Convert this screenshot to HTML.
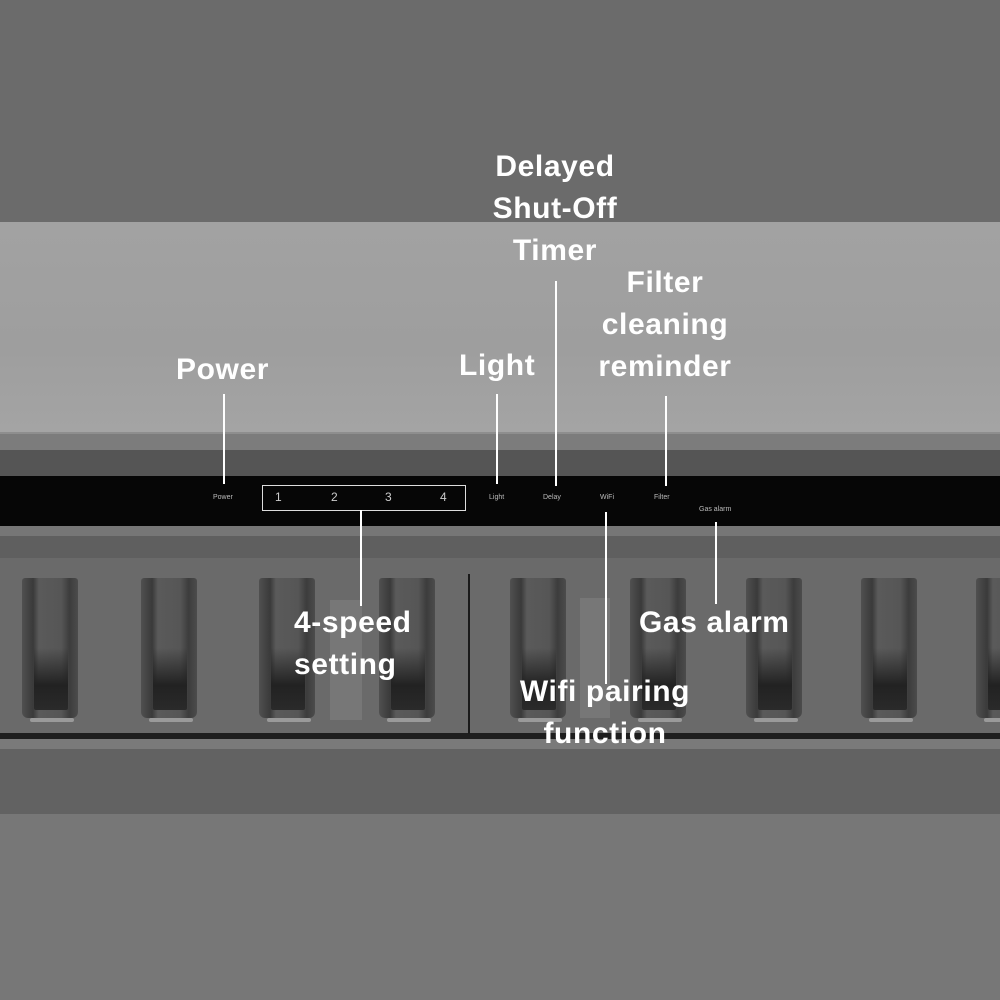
<!DOCTYPE html>
<html><head><style>
html,body{margin:0;padding:0}
body{width:1000px;height:1000px;position:relative;overflow:hidden;background:#6a6a6a;font-family:"Liberation Sans",sans-serif}
.b{position:absolute;left:0;width:1000px}
.slot{position:absolute;top:578px;width:56px;height:140px;border-radius:3px 3px 6px 6px;
background:linear-gradient(90deg,#505050 0%,#3a3a3a 20%,#5a5a5a 30%,#565656 70%,#3c3c3c 85%,#4c4c4c 100%)}
.slot::after{content:"";position:absolute;left:12px;right:10px;top:70px;bottom:8px;background:linear-gradient(180deg,rgba(30,30,30,0),#222 60%,#2a2a2a);border-radius:2px}
.slot::before{content:"";position:absolute;left:8px;right:4px;bottom:-4px;height:4px;background:#9a9a9a;border-radius:2px}
.lbl{position:absolute;color:#fff;font-weight:bold;font-size:30px;letter-spacing:0.6px;text-align:center;line-height:42px;white-space:nowrap}
.ln{position:absolute;width:2px;background:#fff}
.sm{position:absolute;color:#bbb;font-size:7px}
</style></head><body>
<div class="b" style="top:0;height:222px;background:#6b6b6b"></div>
<div class="b" style="top:222px;height:210px;background:linear-gradient(180deg,#a2a2a2,#9e9e9e 60%,#a4a4a4)"></div>
<div class="b" style="top:432px;height:18px;background:#7c7c7c;border-top:2px solid #8e8e8e"></div>
<div class="b" style="top:450px;height:26px;background:#555"></div>
<div class="b" style="top:476px;height:50px;background:#060606"></div>
<div class="b" style="top:526px;height:10px;background:#767676"></div>
<div class="b" style="top:536px;height:22px;background:#5f5f5f"></div>
<div class="b" style="top:558px;height:178px;background:#6a6a6a"></div>
<div class="b" style="top:733px;height:6px;background:#1e1e1e"></div>
<div class="b" style="top:739px;height:10px;background:#7a7a7a"></div>
<div class="b" style="top:749px;height:65px;background:#626262"></div>
<div class="b" style="top:814px;height:186px;background:#777"></div>
<div style="position:absolute;left:468px;top:574px;width:2px;height:160px;background:#1a1a1a"></div>

<div class="slot" style="left:22px"></div>
<div class="slot" style="left:141px"></div>
<div class="slot" style="left:259px"></div>
<div class="slot" style="left:379px"></div>
<div class="slot" style="left:510px"></div>
<div class="slot" style="left:630px"></div>
<div class="slot" style="left:746px"></div>
<div class="slot" style="left:861px"></div>
<div class="slot" style="left:976px"></div>
<div style="position:absolute;left:330px;top:600px;width:32px;height:120px;background:#777"></div>
<div style="position:absolute;left:580px;top:598px;width:30px;height:120px;background:#777"></div>

<div class="sm" style="left:213px;top:494px">Power</div>
<div style="position:absolute;left:262px;top:485px;width:202px;height:24px;border:1.5px solid #ddd"></div>
<div class="sm" style="left:275px;top:490px;font-size:12px;color:#ccc">1</div>
<div class="sm" style="left:331px;top:490px;font-size:12px;color:#ccc">2</div>
<div class="sm" style="left:385px;top:490px;font-size:12px;color:#ccc">3</div>
<div class="sm" style="left:440px;top:490px;font-size:12px;color:#ccc">4</div>
<div class="sm" style="left:489px;top:494px">Light</div>
<div class="sm" style="left:543px;top:494px">Delay</div>
<div class="sm" style="left:600px;top:494px">WiFi</div>
<div class="sm" style="left:654px;top:494px">Filter</div>
<div class="sm" style="left:699px;top:506px">Gas alarm</div>

<div class="ln" style="left:223px;top:394px;height:90px"></div>
<div class="ln" style="left:496px;top:394px;height:90px"></div>
<div class="ln" style="left:555px;top:281px;height:205px"></div>
<div class="ln" style="left:665px;top:396px;height:90px"></div>
<div class="ln" style="left:360px;top:510px;height:96px"></div>
<div class="ln" style="left:605px;top:512px;height:172px"></div>
<div class="ln" style="left:715px;top:522px;height:82px"></div>

<div class="lbl" style="left:176px;top:349px">Power</div>
<div class="lbl" style="left:459px;top:345px">Light</div>
<div class="lbl" style="left:470px;top:146px;width:170px">Delayed<br>Shut-Off<br>Timer</div>
<div class="lbl" style="left:580px;top:262px;width:170px">Filter<br>cleaning<br>reminder</div>
<div class="lbl" style="left:294px;top:602px;text-align:left">4-speed<br>setting</div>
<div class="lbl" style="left:639px;top:602px">Gas alarm</div>
<div class="lbl" style="left:500px;top:671px;width:210px">Wifi pairing<br>function</div>
</body></html>
